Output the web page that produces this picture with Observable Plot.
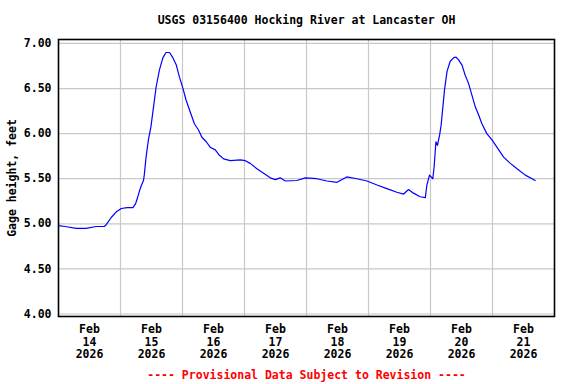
<!DOCTYPE html>
<html>
<head>
<meta charset="utf-8">
<script src="https://cdn.jsdelivr.net/npm/d3@7"></script>
<script src="https://cdn.jsdelivr.net/npm/@observablehq/plot@0.6"></script>
<style>
  html, body { margin: 0; padding: 0; background: #fff; }
</style>
</head>
<body>
<div id="chart"></div>
<script>
// Hours since 2026-02-14 00:00 and gage height (feet)
const hours = [0, 2.6, 6.9, 10.7, 14.6, 17.7, 18.5, 20.4, 22.3, 24.3, 26.6, 28.8, 29.8, 30.5, 31.4, 32.0, 32.9, 33.2, 33.9, 34.8,
  35.8, 36.8, 37.8, 39.1, 40.4, 41.6, 43.0, 44.3, 45.6, 46.8, 48.2, 49.4, 51.0, 52.6, 54.2, 55.5, 57.2, 58.7, 60.7, 62.3,
  63.9, 66.5, 70.4, 72.3, 74.2, 76.8, 79.4, 82.0, 83.9, 85.8, 87.8, 92.3, 95.5, 100.0, 103.9, 107.8, 111.6, 115.5, 119.4, 123.3,
  127.1, 131.0, 133.6, 135.5, 137.4, 140.0, 142.0, 142.6, 143.6, 144.9, 145.4, 146.1, 146.7, 147.5, 148.1, 148.8, 149.4, 150.4, 151.6, 152.9,
  153.8, 154.8, 156.2, 157.4, 158.7, 160.0, 161.3, 162.6, 163.9, 165.8, 167.8, 169.7, 172.3, 174.9, 177.5, 180.7, 183.3, 184.5];
const gage = [4.98, 4.97, 4.95, 4.95, 4.97, 4.97, 4.99, 5.07, 5.13, 5.17, 5.18, 5.18, 5.22, 5.28, 5.37, 5.42, 5.48, 5.54, 5.74, 5.93,
  6.08, 6.30, 6.52, 6.71, 6.84, 6.90, 6.90, 6.84, 6.76, 6.63, 6.50, 6.37, 6.24, 6.11, 6.04, 5.96, 5.91, 5.85, 5.82, 5.76,
  5.72, 5.70, 5.71, 5.70, 5.67, 5.61, 5.56, 5.51, 5.49, 5.51, 5.475, 5.48, 5.51, 5.50, 5.475, 5.46, 5.52, 5.50, 5.475, 5.43,
  5.39, 5.35, 5.33, 5.38, 5.34, 5.30, 5.29, 5.43, 5.54, 5.50, 5.63, 5.91, 5.87, 5.98, 6.09, 6.30, 6.48, 6.69, 6.80, 6.84,
  6.85, 6.82, 6.76, 6.65, 6.56, 6.43, 6.30, 6.21, 6.11, 6.00, 5.93, 5.85, 5.74, 5.67, 5.61, 5.54, 5.50, 5.48];

const dayNumbers = [14, 15, 16, 17, 18, 19, 20, 21];
const yTicks = [4.0, 4.5, 5.0, 5.5, 6.0, 6.5, 7.0];
const titleText = "USGS 03156400 Hocking River at Lancaster OH";
const yLabel = "Gage height, feet";
const footerText = "---- Provisional Data Subject to Revision ----";

const t0 = Date.UTC(2026, 1, 14);
const H = 3600 * 1000;
const data = hours.map((h, i) => ({date: new Date(t0 + h * H), value: gage[i]}));
const noonTicks = dayNumbers.map(d => new Date(Date.UTC(2026, 1, d, 12)));
const midnightTicks = dayNumbers.slice(1).map(d => new Date(Date.UTC(2026, 1, d)));
const labelFor = new Map(noonTicks.map((t, i) => [+t, `Feb\n${dayNumbers[i]}\n2026`]));

const chart = Plot.plot({
  width: 576,
  height: 384,
  marginLeft: 58,
  marginRight: 22,
  marginTop: 39,
  marginBottom: 68,
  style: {fontFamily: "'DejaVu Sans Mono', monospace", fontSize: "11.5px", fontWeight: "bold", color: "#000", background: "#fff"},
  x: {type: "utc", domain: [new Date(t0), new Date(Date.UTC(2026, 1, 22))]},
  y: {domain: [3.972, 7.044]},
  marks: [
    Plot.gridX(midnightTicks, {stroke: "#c8c8c8", strokeOpacity: 1, strokeWidth: 1.2}),
    Plot.gridY(yTicks, {stroke: "#c8c8c8", strokeOpacity: 1, strokeWidth: 1.2}),
    Plot.axisY(yTicks, {tickSize: 0, tickPadding: 7, tickFormat: d => d.toFixed(2), label: null, fontSize: 11.5}),
    Plot.axisX(noonTicks, {tickSize: 0, tickPadding: 8, tickFormat: d => labelFor.get(+d), label: null, lineHeight: 1.09, fontSize: 11.5}),
    Plot.line(data, {x: "date", y: "value", stroke: "#0000ff", strokeWidth: 1.2}),
    Plot.frame({stroke: "#000", strokeWidth: 1.6}),
    Plot.text([titleText], {frameAnchor: "top", dy: -19, text: d => d, fontSize: 11.5, lineAnchor: "middle", fill: "#000"}),
    Plot.text([yLabel], {frameAnchor: "left", dx: -46, rotate: -90, textAnchor: "middle", text: d => d, fontSize: 11.5, lineAnchor: "middle", fill: "#000"}),
    Plot.text([footerText], {frameAnchor: "bottom", dy: 59, text: d => d, fontSize: 11.5, lineAnchor: "middle", fill: "#ff0000"})
  ]
});
document.getElementById("chart").appendChild(chart);
</script>
</body>
</html>
